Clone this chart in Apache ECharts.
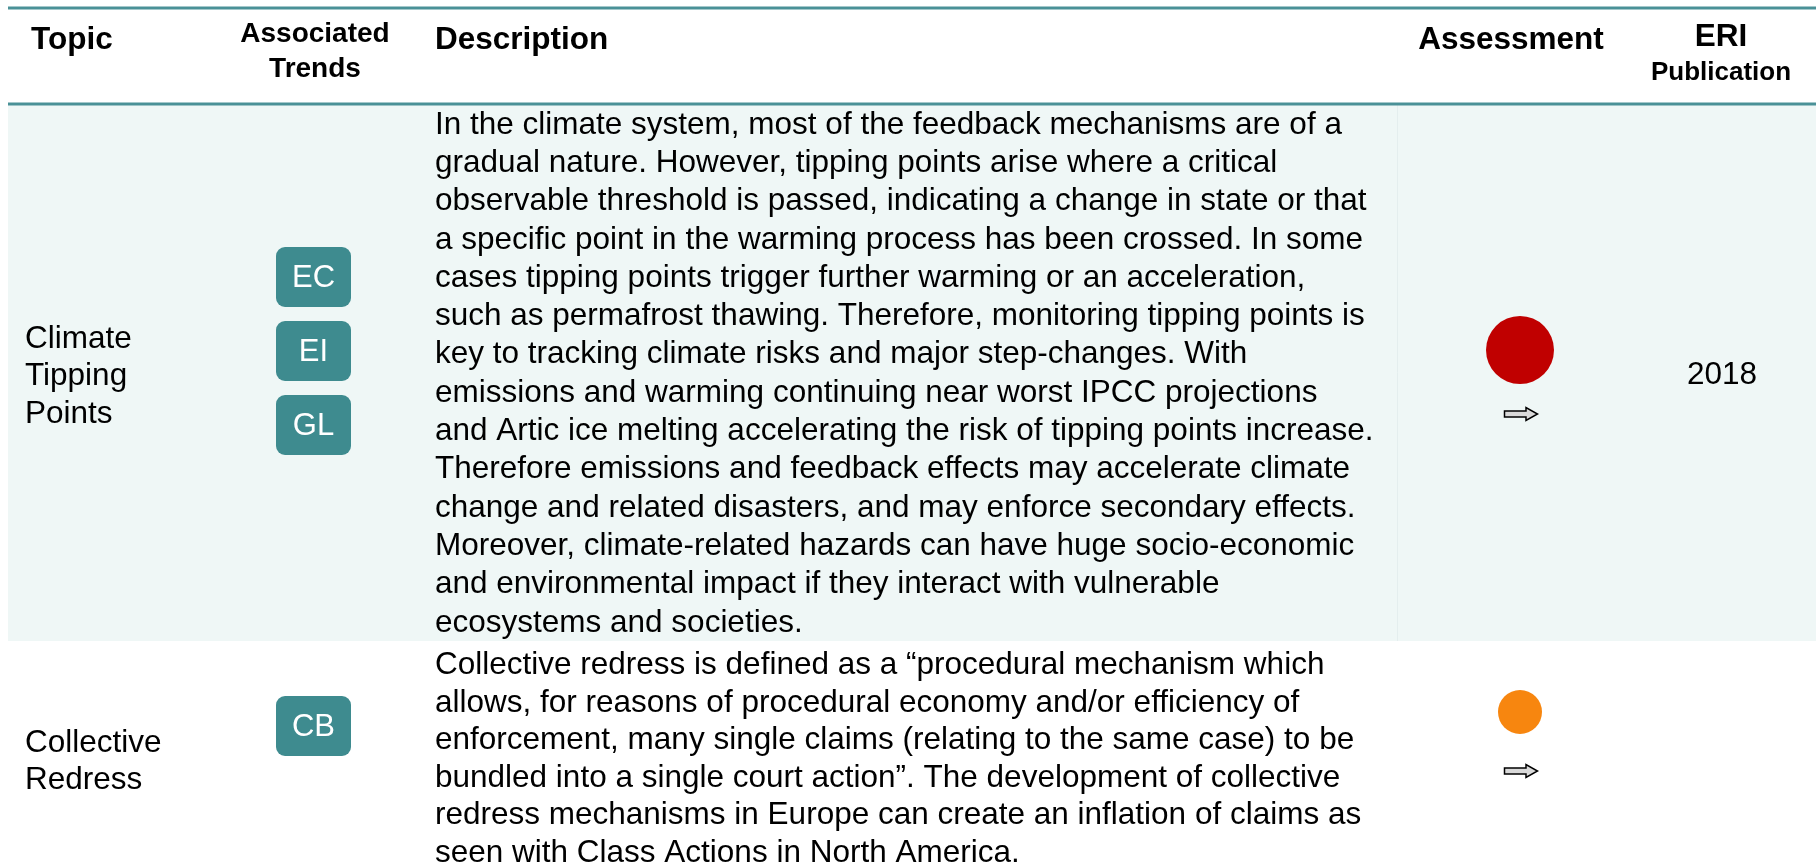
<!DOCTYPE html>
<html>
<head>
<meta charset="utf-8">
<title>Emerging risks</title>
<script src="https://cdn.jsdelivr.net/npm/echarts@6/dist/echarts.min.js"></script>
<style>
  html, body { margin: 0; padding: 0; background: #fff; }
  #chart { width: 1816px; height: 868px; }
</style>
</head>
<body>
<div id="chart"></div>
<script>
// table data
const headers = ['Topic', 'Associated Trends', 'Description', 'Assessment', 'ERI Publication']
const topics = [
  ['Climate', 'Tipping', 'Points'],
  ['Collective', 'Redress']
]
const trends = [
  ['EC', 'EI', 'GL'],
  ['CB']
]
const descriptions = [
  [
    'In the climate system, most of the feedback mechanisms are of a',
    'gradual nature. However, tipping points arise where a critical',
    'observable threshold is passed, indicating a change in state or that',
    'a specific point in the warming process has been crossed. In some',
    'cases tipping points trigger further warming or an acceleration,',
    'such as permafrost thawing. Therefore, monitoring tipping points is',
    'key to tracking climate risks and major step-changes. With',
    'emissions and warming continuing near worst IPCC projections',
    'and Artic ice melting accelerating the risk of tipping points increase.',
    'Therefore emissions and feedback effects may accelerate climate',
    'change and related disasters, and may enforce secondary effects.',
    'Moreover, climate-related hazards can have huge socio-economic',
    'and environmental impact if they interact with vulnerable',
    'ecosystems and societies.'
  ],
  [
    'Collective redress is defined as a \u201cprocedural mechanism which',
    'allows, for reasons of procedural economy and/or efficiency of',
    'enforcement, many single claims (relating to the same case) to be',
    'bundled into a single court action\u201d. The development of collective',
    'redress mechanisms in Europe can create an inflation of claims as',
    'seen with Class Actions in North America.'
  ]
]
const assessments = ['high', 'medium']
const outlooks = ['stable', 'stable']
const publications = ['2018', '']

// styles / layout
const FONT = '"Liberation Sans", Arial, sans-serif'
const TEAL = '#4a9197'
const BADGE = '#3e8b8f'
const BAND = '#eff7f6'
const TY = 2 // text baseline nudge
const levelStyle = {
  high: { color: '#c00000', r: 34 },
  medium: { color: '#f7860f', r: 22 }
}
const rowLayout = [
  { top: 104, bottom: 641, band: true, descY: 123, descStep: 38.3, topicY: 337, badgeY: 277, markY: 350, arrowY: 414, pubY: 373 },
  { top: 641, bottom: 868, band: false, descY: 663.5, descStep: 37.5, topicY: 741, badgeY: 726, markY: 712, arrowY: 771, pubY: 741 }
]
const colX = { topic: 25, badge: 313.5, desc: 435, mark: 1520, pub: 1722 }

function txt(text, x, y, size, opts) {
  opts = opts || {}
  return {
    type: 'text',
    silent: true,
    style: {
      text: text,
      x: x,
      y: y + TY,
      fontSize: size,
      fontFamily: FONT,
      fontWeight: opts.bold ? 'bold' : 'normal',
      fill: opts.color || '#000',
      textAlign: opts.align || 'left',
      textVerticalAlign: 'middle'
    }
  }
}

function arrow(cx, cy) {
  return {
    type: 'polygon',
    silent: true,
    shape: {
      points: [
        [cx - 16.5, cy - 3], [cx + 5, cy - 3], [cx + 5, cy - 6.5], [cx + 16.5, cy],
        [cx + 5, cy + 6.5], [cx + 5, cy + 3], [cx - 16.5, cy + 3]
      ]
    },
    style: { fill: '#d9d9d9', stroke: '#000', lineWidth: 1.5 }
  }
}

const elements = []

// row bands first
rowLayout.forEach(function (row) {
  if (row.band) {
    elements.push({
      type: 'rect', silent: true,
      shape: { x: 8, y: row.top, width: 1808, height: row.bottom - row.top },
      style: { fill: BAND }
    })
    elements.push({
      type: 'line', silent: true,
      shape: { x1: 1397.5, y1: row.top, x2: 1397.5, y2: row.bottom },
      style: { stroke: '#e4eeee', lineWidth: 1 }
    })
  }
})

// header
elements.push(txt(headers[0], 31, 38, 31.5, { bold: true }))
const assoc = headers[1].split(' ')
elements.push(txt(assoc[0], 315, 32, 28, { bold: true, align: 'center' }))
elements.push(txt(assoc[1], 315, 67, 28, { bold: true, align: 'center' }))
elements.push(txt(headers[2], 435, 38, 31.5, { bold: true }))
elements.push(txt(headers[3], 1511, 38, 31.5, { bold: true, align: 'center' }))
const eri = headers[4].split(' ')
elements.push(txt(eri[0], 1721, 35, 31.5, { bold: true, align: 'center' }))
elements.push(txt(eri[1], 1721, 71, 26, { bold: true, align: 'center' }))

// rows
rowLayout.forEach(function (row, i) {
  topics[i].forEach(function (t, k) {
    elements.push(txt(t, colX.topic, row.topicY + k * 37.5, 31.5))
  })
  trends[i].forEach(function (t, k) {
    const cy = row.badgeY + k * 74
    elements.push({
      type: 'rect', silent: true,
      shape: { x: colX.badge - 37.5, y: cy - 30, width: 75, height: 60, r: 9 },
      style: { fill: BADGE }
    })
    elements.push(txt(t, colX.badge, cy - 1, 31, { color: '#fff', align: 'center' }))
  })
  descriptions[i].forEach(function (line, k) {
    elements.push(txt(line, colX.desc, row.descY + k * row.descStep, 31.5))
  })
  const lv = levelStyle[assessments[i]]
  elements.push({
    type: 'circle', silent: true,
    shape: { cx: colX.mark, cy: row.markY, r: lv.r },
    style: { fill: lv.color }
  })
  if (outlooks[i] === 'stable') {
    elements.push(arrow(colX.mark + 1, row.arrowY))
  }
  if (publications[i]) {
    elements.push(txt(publications[i], colX.pub, row.pubY, 31.5, { align: 'center' }))
  }
})

// teal rules
elements.push({
  type: 'line', silent: true,
  shape: { x1: 8, y1: 8, x2: 1816, y2: 8 },
  style: { stroke: TEAL, lineWidth: 3 }
})
elements.push({
  type: 'line', silent: true,
  shape: { x1: 8, y1: 104, x2: 1816, y2: 104 },
  style: { stroke: TEAL, lineWidth: 3 }
})

const myChart = echarts.init(document.getElementById('chart'), null, { renderer: 'canvas' })
myChart.setOption({
  backgroundColor: '#fff',
  animation: false,
  graphic: { elements: elements }
})
</script>
</body>
</html>
